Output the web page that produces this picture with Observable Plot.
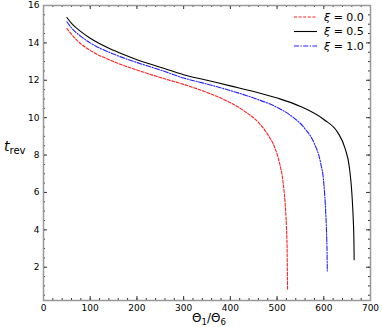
<!DOCTYPE html>
<html><head><meta charset="utf-8">
<script src="https://cdn.jsdelivr.net/npm/d3@7"></script>
<script src="https://cdn.jsdelivr.net/npm/@observablehq/plot@0.6"></script>
<style>
body{margin:0;background:#fff;font-family:"DejaVu Sans",sans-serif;}
#wrap{position:relative;width:382px;height:327px;}
.lab{position:absolute;font-family:"DejaVu Sans",sans-serif;color:#000;white-space:nowrap;line-height:1;}
.lab sub{font-size:0.72em;vertical-align:-0.3em;}
</style></head><body>
<div id="wrap"></div>
<script>
const seriesNames = ["ξ = 0.0", "ξ = 0.5", "ξ = 1.0"];
const seriesColors = ["#ff2020", "#000000", "#2020ff"];
const seriesDash = ["3,1.6", null, "5,1.5,1.2,1.5"];
const x0 = [50,60,80,100,150,200,250,300,350,400,430,460,480,495,505,512,517,520,521.5,522,522.5];
const y0 = [14.77,14.45,13.95,13.6,13.0,12.55,12.15,11.78,11.35,10.8,10.35,9.75,9.1,8.4,7.6,6.7,5.5,4.2,3.0,1.8,0.8];
const x05 = [50,60,80,100,150,200,250,300,350,400,450,500,550,600,630,645,655,660,663,664.5,665];
const y05 = [15.36,15.05,14.6,14.25,13.6,13.1,12.7,12.3,12.0,11.7,11.4,11.05,10.6,9.9,9.2,8.4,7.3,6.0,4.6,3.4,2.4];
const x1 = [50,60,80,100,150,200,250,300,350,400,450,500,530,560,580,593,600,604,606,607,607.5];
const y1 = [15.13,14.8,14.35,14.0,13.4,12.95,12.55,12.12,11.8,11.45,11.05,10.55,10.1,9.4,8.6,7.6,6.5,5.0,3.8,2.8,1.8];
const xTicks = [0,100,200,300,400,500,600,700];
const yTicks = [2,4,6,8,10,12,14,16];
const xMinor = d3.range(0, 701, 20);
const yMinor = d3.range(0.5, 16.01, 0.5);

const xs = [x0, x05, x1], ys = [y0, y05, y1];
const series = seriesNames.map((name, i) => xs[i].map((x, j) => ({x, y: ys[i][j], name})));

const W = 382, H = 327, mt = 5, mb = 27, ml = 43, mr = 12;
const ph = H - mt - mb, pw = W - ml - mr;
const tickStroke = "#333";
const marks = [];
marks.push(Plot.tickX(xTicks, {x: d => d, insetTop: ph - 4, stroke: tickStroke}));
marks.push(Plot.tickX(xTicks, {x: d => d, insetBottom: ph - 4, stroke: tickStroke}));
marks.push(Plot.tickX(xMinor, {x: d => d, insetTop: ph - 2, stroke: tickStroke}));
marks.push(Plot.tickX(xMinor, {x: d => d, insetBottom: ph - 2, stroke: tickStroke}));
marks.push(Plot.tickY(yTicks, {y: d => d, insetRight: pw - 4, stroke: tickStroke}));
marks.push(Plot.tickY(yTicks, {y: d => d, insetLeft: pw - 4, stroke: tickStroke}));
marks.push(Plot.tickY(yMinor, {y: d => d, insetRight: pw - 2, stroke: tickStroke}));
marks.push(Plot.tickY(yMinor, {y: d => d, insetLeft: pw - 2, stroke: tickStroke}));
series.forEach((s, i) => {
  marks.push(Plot.line(s, {x: "x", y: "y", stroke: seriesColors[i], strokeWidth: 1.1, strokeDasharray: seriesDash[i], curve: "monotone-x"}));
});
marks.push(Plot.frame({stroke: "#999", strokeWidth: 1.5}));
marks.push(Plot.axisX({ticks: xTicks, tickSize: 0, tickPadding: 4, label: null, fontSize: 9}));
marks.push(Plot.axisY({ticks: yTicks, tickSize: 0, tickPadding: 4, label: null, fontSize: 9}));

const chart = Plot.plot({
  width: W, height: H,
  marginTop: mt, marginBottom: mb, marginLeft: ml, marginRight: mr,
  style: {fontFamily: "DejaVu Sans, sans-serif", fontSize: "9px", color: "#000", background: "#fff"},
  x: {domain: [0, 700]},
  y: {domain: [0.22, 16]},
  marks
});

const svg = d3.select(chart);
const lg = svg.append("g").attr("font-family", "DejaVu Sans, sans-serif").attr("font-size", 11).attr("text-anchor", "start");
seriesNames.forEach((name, i) => {
  const yy = 17 + i * 14.5;
  lg.append("line").attr("x1", 294).attr("x2", 317).attr("y1", yy).attr("y2", yy)
    .attr("stroke", seriesColors[i]).attr("stroke-width", 1.1)
    .attr("stroke-dasharray", seriesDash[i]);
  const t = lg.append("text").attr("x", 324).attr("y", yy).attr("dy", "0.35em").attr("text-anchor", "start");
  t.append("tspan").attr("font-style", "italic").text("ξ");
  t.append("tspan").text(name.slice(1));
});

const wrap = document.getElementById("wrap");
wrap.appendChild(chart);
const yl = document.createElement("div");
yl.className = "lab"; yl.style.left = "4px"; yl.style.top = "139px"; yl.style.fontSize = "14px";
yl.innerHTML = "<i>t</i><sub>rev</sub>";
wrap.appendChild(yl);
const xl = document.createElement("div");
xl.className = "lab"; xl.style.left = "192px"; xl.style.top = "312px"; xl.style.fontSize = "12px";
xl.innerHTML = "Θ<sub>1</sub>/Θ<sub>6</sub>";
wrap.appendChild(xl);
</script>
</body></html>
